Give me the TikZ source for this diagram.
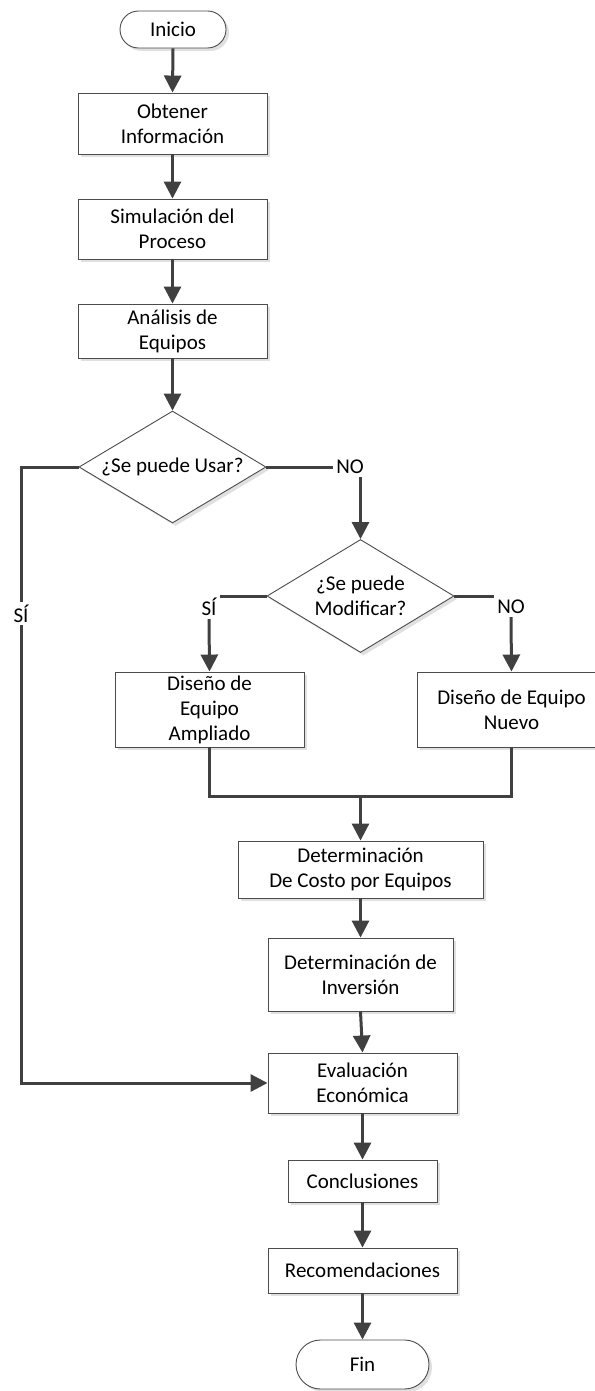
\documentclass[tikz,border=0pt]{standalone}
\usepackage{fontspec}
\setmainfont{Carlito}
\usepackage{tikz}
\usetikzlibrary{arrows.meta,shapes.geometric,shapes.misc,shadows}

\begin{document}
\begin{tikzpicture}[x=1pt,y=-1pt,
  sombra/.style={drop shadow={shadow xshift=3pt,shadow yshift=-3pt,opacity=1,fill=black!12}},
  caja/.style={rectangle,draw=black!70,line width=0.9pt,fill=white,inner sep=0pt,align=center,sombra,font=\fontsize{21}{25}\selectfont},
  terminal/.style={rounded rectangle,draw=black!70,line width=0.9pt,fill=white,inner sep=0pt,sombra,font=\fontsize{21}{25}\selectfont},
  decision/.style={diamond,draw=black!70,line width=0.9pt,fill=white,inner sep=0pt,minimum width=187pt,minimum height=112pt,sombra},
  texto/.style={align=center,inner sep=0pt,font=\fontsize{21}{25}\selectfont},
  etiqueta/.style={inner sep=3pt,font=\fontsize{21}{25}\selectfont},
  linea/.style={draw=black!75,line width=3pt,line join=miter},
  flecha/.style={linea,-{Triangle[width=17pt,length=17pt]}}]
\useasboundingbox (0,0) rectangle (594,1391);
\node[terminal,minimum width=106pt,minimum height=37pt] (inicio) at (173,29.5) {Inicio};
\node[caja,minimum width=189pt,minimum height=61pt] (obtener) at (172.5,123.5) {Obtener\\Información};
\node[caja,minimum width=189pt,minimum height=60pt] (simulacion) at (172.5,229) {Simulación del\\Proceso};
\node[caja,minimum width=189pt,minimum height=54pt] (analisis) at (172.5,331) {Análisis de\\Equipos};
\node[decision,label={[texto]center:¿Se puede Usar?}] (usar) at (172.5,467) {};
\node[etiqueta] (no1) at (350,467) {NO};
\node[decision,minimum height=113pt,label={[texto]center:¿Se puede\\Modificar?}] (modificar) at (360.5,596) {};
\node[etiqueta] (si2) at (209,607) {SÍ};
\node[etiqueta] (no2) at (511,607) {NO};
\node[caja,minimum width=189pt,minimum height=75pt] (ampliado) at (209.5,709.5) {Diseño de\\Equipo\\Ampliado};
\node[caja,minimum width=189pt,minimum height=75pt] (nuevo) at (511.5,709.5) {Diseño de Equipo\\Nuevo};
\coordinate (junta) at (360.5,796);
\node[caja,minimum width=245pt,minimum height=57pt] (costo) at (360.5,869.5) {Determinación\\De Costo por Equipos};
\node[caja,minimum width=185pt,minimum height=73pt] (inversion) at (360.5,974.5) {Determinación de\\Inversión};
\node[caja,minimum width=189pt,minimum height=60pt] (evaluacion) at (362.5,1083) {Evaluación\\Económica};
\node[caja,minimum width=149pt,minimum height=42pt] (conclusiones) at (362.5,1181) {Conclusiones};
\node[caja,minimum width=189pt,minimum height=45pt] (recomendaciones) at (362.5,1270.5) {Recomendaciones};
\node[terminal,minimum width=133pt,minimum height=49pt] (fin) at (362.5,1364.5) {Fin};
\coordinate (esquina) at (21,467);

\draw[flecha] (inicio.south) -- (obtener.north);
\draw[flecha] (obtener.south) -- (simulacion.north);
\draw[flecha] (simulacion.south) -- (analisis.north);
\draw[flecha] (analisis.south) -- (usar.north);
\draw[flecha] (usar.west) -- (esquina) |- node[etiqueta,pos=0.119,fill=white] (si1) {SÍ} (evaluacion.west);
\draw[linea] (usar.east) -- (no1.west);
\draw[flecha] (no1.south -| modificar.north) -- (modificar.north);
\draw[linea] (modificar.west) -- (modificar.west -| si2.east);
\draw[flecha] (si2.south) -- (ampliado.north);
\draw[linea] (modificar.east) -- (modificar.east -| no2.west);
\draw[flecha] (no2.south) -- (nuevo.north);
\draw[linea] (ampliado.south) |- (junta) -| (nuevo.south);
\draw[flecha] (junta) -- (costo.north);
\draw[flecha] (costo.south) -- (inversion.north);
\draw[flecha] (inversion.south) -- (evaluacion.north);
\draw[flecha] (evaluacion.south) -- (conclusiones.north);
\draw[flecha] (conclusiones.south) -- (recomendaciones.north);
\draw[flecha] (recomendaciones.south) -- (fin.north);
\end{tikzpicture}
\end{document}
